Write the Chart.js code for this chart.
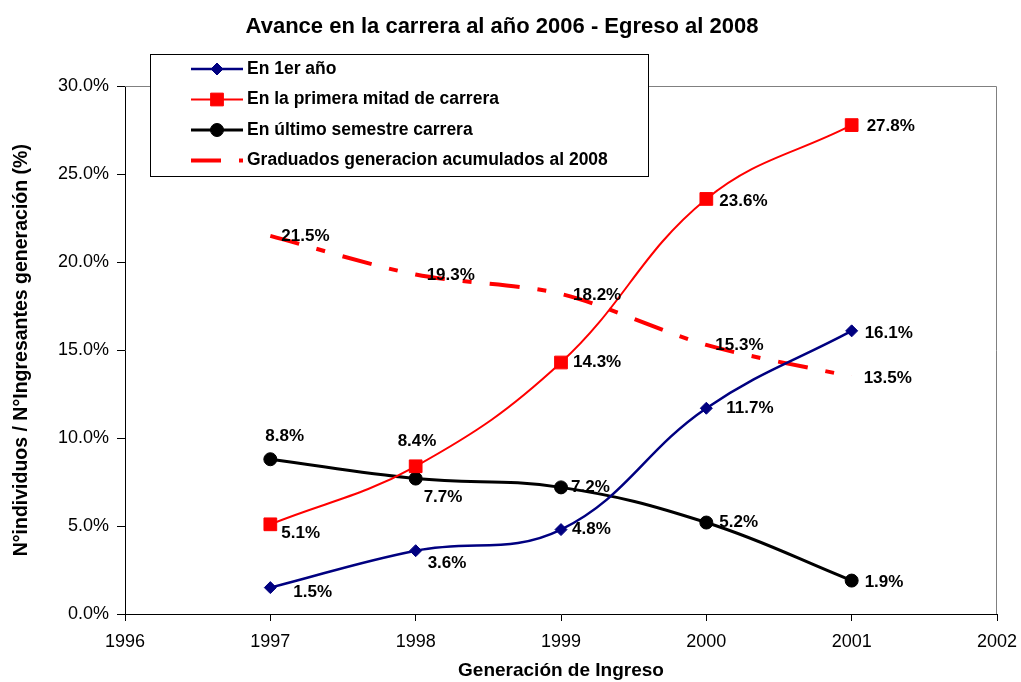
<!DOCTYPE html>
<html>
<head>
<meta charset="utf-8">
<title>Avance en la carrera al año 2006</title>
<script src="https://cdn.jsdelivr.net/npm/chart.js@4.4.1/dist/chart.umd.min.js"></script>
<style>
  html, body { margin: 0; padding: 0; background: #fff; }
  canvas { display: block; }
</style>
</head>
<body>
<canvas id="myChart" width="1021" height="682"></canvas>
<script>
'use strict';

// generación de ingreso
const years = [1997, 1998, 1999, 2000, 2001];

// % sobre ingresantes de la generación
const primerAnio = [1.5, 3.6, 4.8, 11.7, 16.1];
const primeraMitad = [5.1, 8.4, 14.3, 23.6, 27.8];
const ultimoSemestre = [8.8, 7.7, 7.2, 5.2, 1.9];
const graduados = [21.5, 19.3, 18.2, 15.3, 13.5];

const seriesLabels = [
    'En 1er año',
    'En la primera mitad de carrera',
    'En último semestre carrera',
    'Graduados generacion acumulados al 2008'
];

const xMin = 1996;
const xMax = 2002;
const yMax = 30;

// where each value label sits relative to its point (dx, dy)
const labelOffsets = [
    [[23, 5], [12, 13], [11, 0], [20, 0], [13, 2]],
    [[11, 9], [-18, -25], [12, 0], [13, 2], [15, 1]],
    [[-5, -23], [8, 19], [10, 0], [13, 0], [13, 2]],
    [[11, 0], [11, 1], [12, 1], [9, 0], [12, 2]]
];

const fontFamily = "'Liberation Sans', Arial, sans-serif";

function toPoints(values){
    return years.map((yr, i) => ({x: yr, y: values[i]}));
}

const plotBorder = {
    id: 'plotBorder',
    beforeDatasetsDraw(chart){
        const ctx = chart.ctx;
        const a = chart.chartArea;
        ctx.save();
        ctx.strokeStyle = '#808080';
        ctx.lineWidth = 1;
        ctx.beginPath();
        ctx.moveTo(a.left, Math.round(a.top) + 0.5);
        ctx.lineTo(Math.round(a.right) - 0.5, Math.round(a.top) + 0.5);
        ctx.lineTo(Math.round(a.right) - 0.5, a.bottom);
        ctx.stroke();
        ctx.restore();
    }
};

const valueLabels = {
    id: 'valueLabels',
    afterDatasetsDraw(chart){
        const ctx = chart.ctx;
        ctx.save();
        ctx.font = 'bold 17px ' + fontFamily;
        ctx.fillStyle = '#000';
        ctx.textAlign = 'left';
        ctx.textBaseline = 'middle';
        chart.data.datasets.forEach((ds, i) => {
            let meta = chart.getDatasetMeta(i);
            meta.data.forEach((pt, j) => {
                let off = labelOffsets[i][j];
                ctx.fillText(ds.data[j].y.toFixed(1) + '%', pt.x + off[0], pt.y + off[1]);
            });
        });
        ctx.restore();
    }
};

const boxLegend = {
    id: 'boxLegend',
    afterDraw(chart){
        const ctx = chart.ctx;
        ctx.save();
        ctx.fillStyle = '#fff';
        ctx.fillRect(150, 54, 498, 122);
        ctx.strokeStyle = '#000';
        ctx.lineWidth = 1;
        ctx.strokeRect(150.5, 54.5, 498, 122);

        chart.data.datasets.forEach((ds, i) => {
            let y = 69 + i * 30.5;
            ctx.save();
            ctx.strokeStyle = ds.borderColor;
            ctx.lineWidth = ds.borderWidth;
            ctx.setLineDash(ds.borderDash || []);
            ctx.beginPath();
            ctx.moveTo(191, y);
            ctx.lineTo(243, y);
            ctx.stroke();
            ctx.restore();

            if(ds.pointRadius > 0){
                ctx.fillStyle = ds.backgroundColor;
                ctx.strokeStyle = ds.borderColor;
                ctx.lineWidth = 1;
                Chart.helpers.drawPoint(ctx, {
                    pointStyle: ds.pointStyle,
                    radius: ds.pointRadius,
                    borderWidth: 1,
                    rotation: 0
                }, 217, y);
            }

            ctx.fillStyle = '#000';
            ctx.font = 'bold 17.5px ' + fontFamily;
            ctx.textAlign = 'left';
            ctx.textBaseline = 'middle';
            ctx.fillText(ds.label, 247, y);
        });
        ctx.restore();
    }
};

Chart.defaults.font.family = fontFamily;
Chart.defaults.color = '#000';

const config = {
    type: 'line',
    data: {
        datasets: [{
            label: seriesLabels[0],
            data: toPoints(primerAnio),
            borderColor: '#000080',
            backgroundColor: '#000080',
            borderWidth: 2.5,
            pointStyle: 'rectRot',
            pointRadius: 6,
            pointBorderWidth: 1,
            tension: 0.4
        }, {
            label: seriesLabels[1],
            data: toPoints(primeraMitad),
            borderColor: '#ff0000',
            backgroundColor: '#ff0000',
            borderWidth: 2,
            pointStyle: 'rect',
            pointRadius: 9,
            pointBorderWidth: 1,
            tension: 0.4
        }, {
            label: seriesLabels[2],
            data: toPoints(ultimoSemestre),
            borderColor: '#000000',
            backgroundColor: '#000000',
            borderWidth: 3,
            pointStyle: 'circle',
            pointRadius: 6.5,
            pointBorderWidth: 1,
            tension: 0.4
        }, {
            label: seriesLabels[3],
            data: toPoints(graduados),
            borderColor: '#ff0000',
            backgroundColor: '#ff0000',
            borderWidth: 4,
            borderDash: [30, 18, 9, 18],
            pointRadius: 0,
            tension: 0.3
        }]
    },
    options: {
        responsive: false,
        animation: false,
        events: [],
        layout: { padding: { left: 0, right: 17, top: 0, bottom: 0 } },
        plugins: {
            legend: { display: false },
            tooltip: { enabled: false },
            title: {
                display: true,
                text: 'Avance en la carrera al año 2006 - Egreso al 2008',
                font: { size: 22, weight: 'bold' },
                color: '#000',
                padding: { top: 14, bottom: 46 }
            }
        },
        scales: {
            x: {
                type: 'linear',
                min: xMin,
                max: xMax,
                ticks: {
                    stepSize: 1,
                    callback: v => String(v),
                    font: { size: 18 },
                    padding: 10,
                    color: '#000'
                },
                grid: { drawOnChartArea: false, color: '#000', tickLength: 7 },
                border: { color: '#000', width: 1 },
                title: {
                    display: true,
                    text: 'Generación de Ingreso',
                    font: { size: 19, weight: 'bold' },
                    padding: { top: 0, bottom: 0 }
                },
                afterFit(scale){
                    scale.height = 68;
                    scale.paddingRight = 24;
                }
            },
            y: {
                min: 0,
                max: yMax,
                ticks: {
                    stepSize: 5,
                    callback: v => v.toFixed(1) + '%',
                    font: { size: 18 },
                    padding: 8,
                    color: '#000'
                },
                grid: { drawOnChartArea: false, color: '#000', tickLength: 8 },
                border: { color: '#000', width: 1 },
                title: {
                    display: true,
                    text: 'N°individuos / N°Ingresantes generación (%)',
                    font: { size: 19.5, weight: 'bold' },
                    padding: { top: 10, bottom: 0 }
                },
                afterFit(scale){ scale.width = 125; }
            }
        }
    },
    plugins: [plotBorder, valueLabels, boxLegend]
};

const myChart = new Chart(document.getElementById('myChart'), config);
</script>
</body>
</html>
